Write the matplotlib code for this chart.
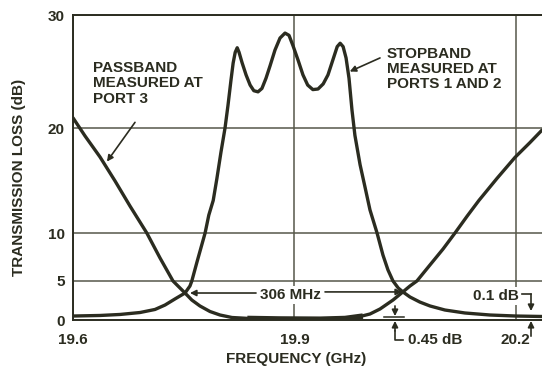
import numpy as np
import matplotlib
matplotlib.use('Agg')
import matplotlib.pyplot as plt

# ---------------------------------------------------------------------------
# values (frequency in GHz, loss in dB)
stop_freq = [19.6000, 19.6366, 19.6637, 19.6908, 19.7111, 19.7247, 19.7382,
             19.7518, 19.7585, 19.7610, 19.7680, 19.7790, 19.7840, 19.7900,
             19.7950, 19.8005, 19.8060, 19.8100, 19.8140, 19.8170, 19.8198,
             19.8225, 19.8250, 19.8290, 19.8345, 19.8400, 19.8450, 19.8507,
             19.8560, 19.8615, 19.8670, 19.8737, 19.8805, 19.8873, 19.8927,
             19.8980, 19.9050, 19.9116, 19.9180, 19.9250, 19.9320, 19.9390,
             19.9455, 19.9520, 19.9580, 19.9620, 19.9660, 19.9700, 19.9740,
             19.9780, 19.9820, 19.9890, 19.9959, 20.0024, 20.0120, 20.0200,
             20.0268, 20.0336, 20.0407, 20.0470, 20.0566, 20.0700, 20.0837,
             20.1040, 20.1310, 20.1650, 20.2000, 20.2355]
stop_loss = [0.51, 0.58, 0.71, 0.96, 1.35, 1.92, 2.7,
             3.46, 4.36, 5.0, 6.98, 10.0, 11.7, 13.1,
             15.2, 17.7, 20.0, 22.0, 24.2, 25.75, 26.7,
             27.1, 26.7, 25.8, 24.7, 23.8, 23.3, 23.2,
             23.5, 24.4, 25.5, 26.9, 27.96, 28.4, 28.2,
             27.3, 26.0, 24.7, 23.8, 23.4, 23.45, 23.9,
             24.7, 26.0, 27.2, 27.5, 27.2, 26.2, 24.4,
             21.6, 19.3, 16.5, 14.3, 12.2, 10.0, 7.7,
             6.15, 5.0, 4.1, 3.6, 2.95, 2.3, 1.8,
             1.28, 0.9, 0.64, 0.51, 0.45]

pass_freq = [19.6000, 19.6163, 19.6366, 19.6570, 19.6772, 19.7000, 19.7179,
             19.7355, 19.7450, 19.7518, 19.7610, 19.7720, 19.7856, 19.7992,
             19.8154, 19.8400, 19.8800, 19.9350, 19.9686, 19.9890, 20.0024,
             20.0160, 20.0336, 20.0470, 20.0566, 20.0660, 20.0837, 20.1014,
             20.1176, 20.1340, 20.1500, 20.1745, 20.1989, 20.2190, 20.2355]
pass_loss = [20.9, 19.24, 17.24, 14.95, 12.57, 10.0, 7.4,
             5.0, 4.1, 3.46, 2.56, 1.8, 1.09, 0.64,
             0.32, 0.19, 0.13, 0.1, 0.19, 0.45, 0.77,
             1.41, 2.56, 3.6, 4.36, 5.0, 6.67, 8.33,
             10.0, 11.6, 13.1, 15.2, 17.2, 18.6, 19.8]

x_ticks = [19.6, 19.9, 20.2]
y_ticks = [0, 5, 10, 20, 30]

ink = '#2b2c20'
grid_col = '#56574a'

# the dB axis of the original is compressed towards 0
y_knots = [0, 5, 10, 20, 30]
h_knots = [0, 39, 87, 192, 305]


def fwd(v):
    return np.interp(v, y_knots, h_knots)


def inv(v):
    return np.interp(v, h_knots, y_knots)


plt.rcParams['font.family'] = ['Liberation Sans', 'DejaVu Sans']
plt.rcParams['font.weight'] = 'bold'
plt.rcParams['axes.labelweight'] = 'bold'

fig = plt.figure(figsize=(5.42, 3.69), dpi=100)
ax = fig.add_axes([73 / 542, 1 - 320 / 369, 469 / 542, 305 / 369])
ax.set_yscale('function', functions=(fwd, inv))
ax.set_xlim(19.6, 20.2355)
ax.set_ylim(0, 30)

ax.set_xticks(x_ticks)
ax.set_xticklabels(['19.6', '19.9', '20.2'])
ax.set_yticks(y_ticks)
ax.set_yticklabels([str(t) for t in y_ticks])
ax.yaxis.set_minor_locator(matplotlib.ticker.NullLocator())
ax.tick_params(length=0, labelsize=11, colors=ink)
ax.tick_params(axis='x', pad=9)
ax.tick_params(axis='y', pad=6)
ax.grid(True, color=grid_col, lw=1.1)
ax.set_axisbelow(True)

for side in ['left', 'bottom', 'top']:
    ax.spines[side].set_color(ink)
    ax.spines[side].set_linewidth(1.4)
ax.spines['right'].set_visible(False)

line_kw = dict(color=ink, lw=2.4, zorder=3, solid_joinstyle='round',
               solid_capstyle='round')
ax.plot(stop_freq, stop_loss, **line_kw)
ax.plot(pass_freq, pass_loss, **line_kw)
# heavy trace where the passband sits on the floor
flat = [(f, l) for f, l in zip(pass_freq, pass_loss) if 19.84 <= f <= 19.99]
ax.plot([p[0] for p in flat], [p[1] for p in flat], color=ink, lw=4, zorder=3)

ax.set_xlabel('FREQUENCY (GHz)', fontsize=11, color=ink, va='center',
              fontweight='bold')
ax.xaxis.set_label_coords((296 - 73) / 469, (320 - 359) / 305)
ax.set_ylabel('TRANSMISSION LOSS (dB)', fontsize=11, color=ink, va='center',
              fontweight='bold')
ax.yaxis.set_label_coords((19 - 73) / 469, (320 - 177) / 305)

arrow = dict(arrowstyle='-|>', color=ink, lw=1.2, mutation_scale=9,
             shrinkA=0, shrinkB=0)

ax.text(19.627, 25.9, 'PASSBAND\nMEASURED AT\nPORT 3', fontsize=11,
        color=ink, va='top', ha='left', linespacing=1.1)
ax.annotate('', xy=(19.646, 16.8), xytext=(19.684, 20.5), arrowprops=arrow)

ax.text(20.0255, 27.2, 'STOPBAND\nMEASURED AT\nPORTS 1 AND 2', fontsize=11,
        color=ink, va='top', ha='left', linespacing=1.1)
ax.annotate('', xy=(19.975, 25.0), xytext=(20.016, 26.2), arrowprops=arrow)

# 306 MHz span between the two crossover points
ax.text(19.894, 3.2, '306 MHz', fontsize=11, color=ink, ha='center',
        va='center', zorder=4,
        bbox=dict(facecolor='white', edgecolor='none', pad=1.5))
ax.annotate('', xy=(19.7585, 3.46), xytext=(19.848, 3.46), arrowprops=arrow)
ax.annotate('', xy=(20.0458, 3.6), xytext=(19.9415, 3.6), arrowprops=arrow)

# 0.45 dB marker
xt = ax.get_xaxis_transform()
ax.annotate('', xy=(20.0363, 0.5), xytext=(20.0363, 1.8), arrowprops=arrow)
ax.plot([20.022, 20.049], [0.38, 0.38], color=ink, lw=1.1, zorder=4)
ax.annotate('', xy=(20.0363, -0.003), xytext=(20.0363, -0.036), xycoords=xt,
            textcoords=xt, arrowprops=arrow, annotation_clip=False)
ax.plot([20.0363, 20.0363, 20.0472], [-0.036, -0.066, -0.066], color=ink,
        lw=1.2, transform=xt, clip_on=False)
ax.text(20.0539, -0.066, '0.45 dB', fontsize=11, color=ink, ha='left',
        va='center', transform=xt)

# 0.1 dB marker
ax.text(20.2043, 3.1, '0.1 dB', fontsize=11, color=ink, ha='right',
        va='center', zorder=4,
        bbox=dict(facecolor='white', edgecolor='none', pad=1.5))
ax.plot([20.2084, 20.2206], [3.33, 3.33], color=ink, lw=1.2, zorder=4)
ax.annotate('', xy=(20.2206, 1.15), xytext=(20.2206, 3.33), arrowprops=arrow)
ax.annotate('', xy=(20.2206, -0.003), xytext=(20.2206, -0.053), xycoords=xt,
            textcoords=xt, arrowprops=arrow, annotation_clip=False)

fig.savefig('out.png', dpi=100, facecolor='white')
